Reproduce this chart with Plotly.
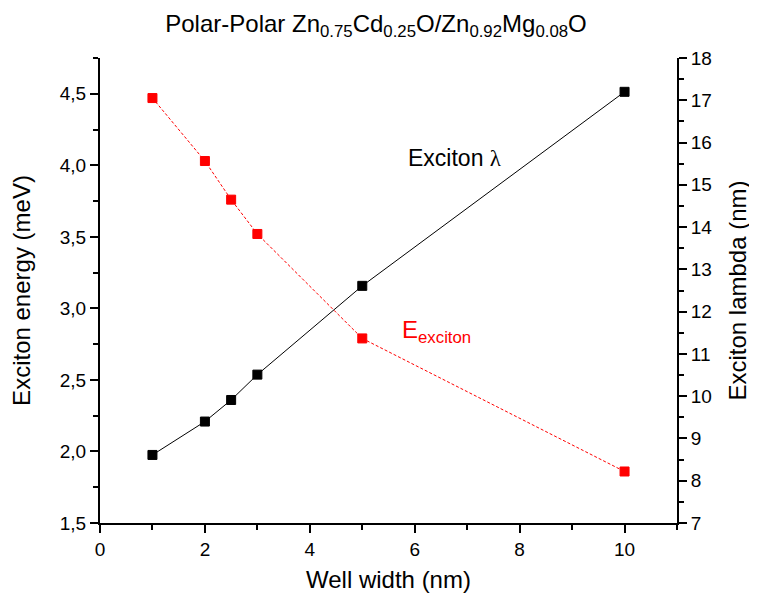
import plotly.graph_objects as go

well_width = [1, 2, 2.5, 3, 5, 10]
exciton_energy = [4.47, 4.03, 3.76, 3.52, 2.79, 1.86]
exciton_lambda = [8.61, 9.40, 9.91, 10.51, 12.61, 17.20]

FONT = "Liberation Sans, Arial, sans-serif"
OFF = 8  # default page body margin in the written html

fig = go.Figure()
fig.add_trace(go.Scatter(
    x=well_width, y=exciton_energy, mode="lines+markers", yaxis="y",
    line=dict(color="#ff0000", width=1, dash="3px,2px"),
    marker=dict(symbol="square", size=9, color="#ff0000", line=dict(color="#ff0000", width=1)),
    showlegend=False))
fig.add_trace(go.Scatter(
    x=well_width, y=exciton_lambda, mode="lines+markers", yaxis="y2",
    line=dict(color="black", width=1),
    marker=dict(symbol="square", size=9, color="black", line=dict(color="black", width=1)),
    showlegend=False))

tickfont = dict(family=FONT, size=19, color="black")
titlefont = dict(family=FONT, size=24, color="black")

W, H = 757 - OFF, 599 - OFF

fig.update_layout(
    width=W, height=H,
    margin=dict(l=100 - OFF, r=80, t=58 - OFF, b=76),
    paper_bgcolor="white", plot_bgcolor="white",
    separators=",.",
    title=dict(
        text="Polar-Polar Zn<sub>0.75</sub>Cd<sub>0.25</sub>O/Zn<sub>0.92</sub>Mg<sub>0.08</sub>O",
        font=dict(family=FONT, size=24, color="black"),
        x=(376 - OFF) / W, xanchor="center", xref="container",
        y=1 - (24 - OFF) / H, yanchor="middle", yref="container"),
    xaxis=dict(
        range=[0, 11], dtick=2, tick0=0, showgrid=False, zeroline=False,
        automargin=False,
        showline=True, linecolor="black", linewidth=2,
        ticks="outside", ticklen=8, tickwidth=2, tickcolor="black",
        minor=dict(dtick=1, ticks="outside", ticklen=5, tickwidth=2, tickcolor="black"),
        tickfont=tickfont,
        title=dict(text="Well width (nm)", font=titlefont, standoff=12)),
    xaxis2=dict(
        range=[0, 11], dtick=2, tick0=0, overlaying="x", side="top",
        showgrid=False, zeroline=False, showticklabels=False, automargin=False,
        showline=True, linecolor="black", linewidth=2,
        ticks="inside", ticklen=7, tickwidth=2, tickcolor="black",
        minor=dict(dtick=1, ticks="inside", ticklen=4, tickwidth=2, tickcolor="black")),
    yaxis=dict(
        range=[1.5, 4.75], dtick=0.5, tick0=1.5, tickformat=".1f",
        showgrid=False, zeroline=False, automargin=False,
        showline=True, linecolor="black", linewidth=2,
        ticks="outside", ticklen=8, tickwidth=2, tickcolor="black",
        minor=dict(dtick=0.25, ticks="outside", ticklen=5, tickwidth=2, tickcolor="black"),
        tickfont=tickfont,
        title=dict(text="Exciton energy (meV)", font=titlefont, standoff=22)),
    yaxis2=dict(
        range=[7, 18], dtick=1, tick0=7, overlaying="y", side="right",
        showgrid=False, zeroline=False, automargin=False,
        showline=True, linecolor="black", linewidth=2,
        ticks="outside", ticklen=8, tickwidth=2, tickcolor="black",
        minor=dict(dtick=0.5, ticks="outside", ticklen=5, tickwidth=2, tickcolor="black"),
        tickfont=tickfont,
        title=dict(text="Exciton lambda (nm)", font=titlefont, standoff=18)),
    annotations=[
        dict(text="Exciton <span style='font-family:Liberation Serif, DejaVu Serif, serif'>λ</span>",
             x=5.83, y=4.05, xref="x", yref="y",
             xanchor="left", yanchor="middle", showarrow=False,
             font=dict(family=FONT, size=23, color="black")),
        dict(text="E<sub>exciton</sub>", x=5.72, y=2.84, xref="x", yref="y",
             xanchor="left", yanchor="middle", showarrow=False,
             font=dict(family=FONT, size=24, color="#ff0000")),
    ],
)

fig.write_html("out.html")
